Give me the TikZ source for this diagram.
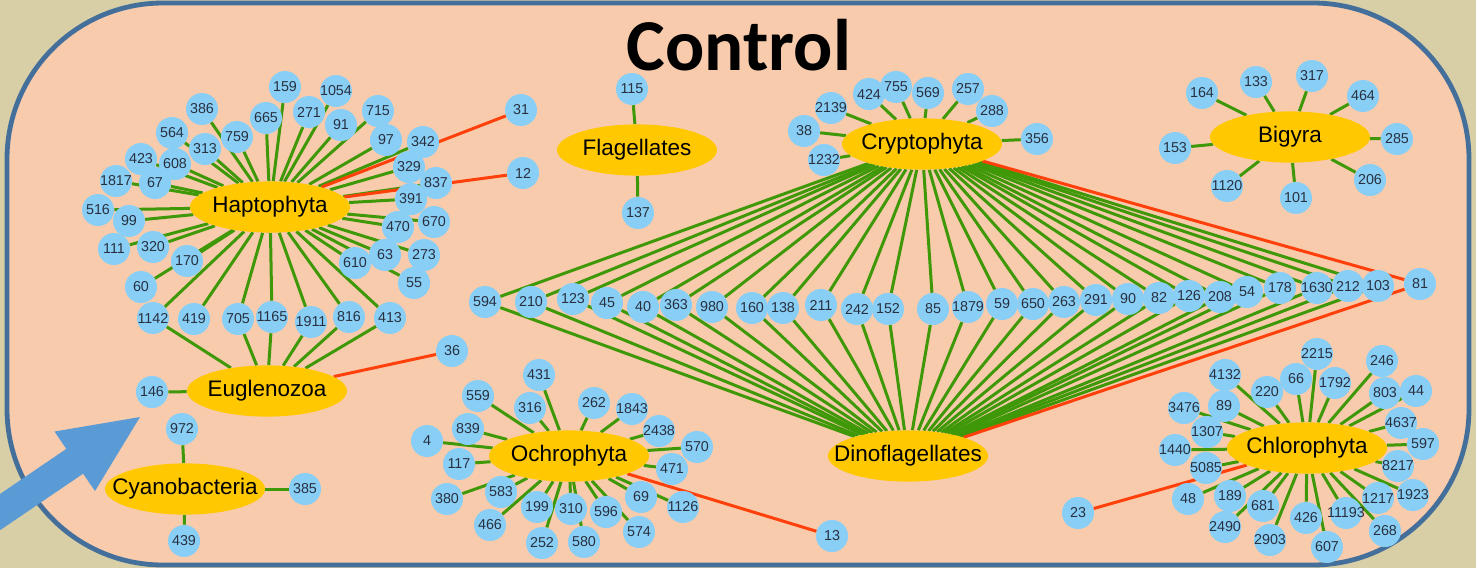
\documentclass[tikz,border=0pt]{standalone}
\usepackage{fontspec}
\setmainfont{Liberation Sans}
\newfontfamily\titlefont{Carlito}
\usetikzlibrary{shapes.geometric}
\definecolor{khaki}{RGB}{216,207,167}
\definecolor{peach}{RGB}{248,203,173}
\definecolor{frameblue}{RGB}{68,111,154}
\definecolor{leafblue}{RGB}{137,207,245}
\definecolor{hubgold}{RGB}{255,200,0}
\definecolor{linkgreen}{RGB}{62,152,8}
\definecolor{linkred}{RGB}{255,64,10}
\definecolor{arrowblue}{RGB}{91,155,213}
\definecolor{digitgray}{RGB}{40,48,64}
\pgfdeclarelayer{back}
\pgfdeclarelayer{edges}
\pgfsetlayers{back,edges,main}

\begin{document}
\begin{tikzpicture}[x=0.025cm, y=-0.025cm, line cap=round, line join=round,
  leaf/.style={circle, fill=leafblue, minimum size=0.8cm, inner sep=0pt, text=digitgray, font=\fontsize{10.2}{12}\selectfont},
  hub/.style={ellipse, fill=hubgold, minimum width=4cm, minimum height=1.28cm, inner sep=0pt, font=\fontsize{16}{19}\selectfont},
  link/.style={linkgreen, line width=0.075cm},
  redlink/.style={linkred, line width=0.075cm}]
	\useasboundingbox (0,0) rectangle (1476,568);
	\begin{pgfonlayer}{back}
	\fill[khaki] (0,0) rectangle (1476,568);
	\draw[frameblue, fill=peach, line width=0.12cm, rounded corners=3.9cm] (7,3) rectangle (1469,565);
	\end{pgfonlayer}
	\node[font=\titlefont\bfseries\fontsize{52}{60}\selectfont, inner sep=0pt] (title) at (739,45) {Control};
	\node[hub] (hap) at (270,207) {\makebox[0pt]{Haptophyta}};
	\node[hub] (eug) at (267,391) {\makebox[0pt]{Euglenozoa}};
	\node[hub] (cya) at (185,489) {\makebox[0pt]{Cyanobacteria}};
	\node[hub] (och) at (569,456) {\makebox[0pt]{Ochrophyta}};
	\node[hub] (fla) at (637,150) {\makebox[0pt]{Flagellates}};
	\node[hub] (cry) at (922,144) {\makebox[0pt]{Cryptophyta}};
	\node[hub] (big) at (1290,137) {\makebox[0pt]{Bigyra}};
	\node[hub] (din) at (908,456) {\makebox[0pt]{Dinoflagellates}};
	\node[hub] (chl) at (1307,448) {\makebox[0pt]{Chlorophyta}};
	\foreach \lab/\x/\y in {159/285/87, 1054/336/91, 386/202/109, 665/266/118, 271/309/112, 91/341/125,
	    715/378/111, 97/386/140, 342/423/142, 31/521/110, 564/172/133, 313/205/149, 759/237/137,
	    423/141/159, 608/175/164, 1817/116/181, 67/155/183, 329/409/167, 837/436/183, 12/523/173,
	    391/411/199, 516/98/210, 99/129/221, 470/398/227, 670/434/222, 111/114/249, 320/153/247,
	    170/187/261, 63/385/255, 273/424/255, 610/355/263, 55/414/283, 60/141/287, 1142/153/318,
	    419/194/319, 705/238/319, 1165/272/317, 1911/311/322, 816/349/317, 413/390/318}
	  \node[leaf] (n\lab) at (\x,\y) {\makebox[0pt]{\lab}};
	\foreach \lab/\x/\y in {146/152/392, 36/452/351, 972/182/429, 385/305/489, 439/184/541}
	  \node[leaf] (n\lab) at (\x,\y) {\makebox[0pt]{\lab}};
	\foreach \lab/\x/\y in {431/539/375, 559/478/396, 316/530/408, 262/594/403, 1843/632/409,
	    839/468/429, 2438/659/431, 4/427/441, 570/697/447, 117/459/464, 471/672/469, 380/447/499,
	    583/501/492, 199/537/507, 310/571/509, 596/606/512, 69/641/497, 1126/683/507, 466/490/525,
	    252/542/543, 580/584/542, 574/639/532, 13/832/536}
	  \node[leaf] (n\lab) at (\x,\y) {\makebox[0pt]{\lab}};
	\foreach \lab/\x/\y in {115/632/89, 137/638/213, 2139/831/108, 424/869/94, 755/896/87, 569/928/93,
	    257/968/89, 288/992/111, 38/804/131, 1232/824/160, 356/1037/139}
	  \node[leaf] (n\lab) at (\x,\y) {\makebox[0pt]{\lab}};
	\foreach \lab/\x/\y in {164/1202/93, 133/1256/82, 317/1312/76, 464/1363/96, 153/1175/148,
	    285/1397/139, 1120/1227/186, 101/1296/198, 206/1370/180}
	  \node[leaf] (n\lab) at (\x,\y) {\makebox[0pt]{\lab}};
	\foreach \lab/\x/\y in {594/485/302, 210/531/302, 123/573/299, 45/607/303, 40/643/307, 363/676/305,
	    980/712/307, 160/752/308, 138/783/308, 211/821/305, 242/857/309, 152/888/309, 85/933/309,
	    1879/968/307, 59/1002/304, 650/1033/304, 263/1064/302, 291/1096/300, 90/1128/299, 82/1159/298,
	    126/1189/296, 208/1220/297, 54/1247/292, 178/1280/288, 1630/1317/288, 212/1348/286,
	    103/1378/286, 81/1420/284}
	  \node[leaf] (n\lab) at (\x,\y) {\makebox[0pt]{\lab}};
	\foreach \lab/\x/\y in {2215/1317/354, 246/1382/361, 4132/1225/375, 66/1296/379, 1792/1335/383,
	    220/1267/392, 803/1385/393, 44/1416/391, 3476/1184/408, 89/1224/406, 4637/1401/423,
	    1307/1207/432, 1440/1175/450, 597/1423/444, 5085/1206/468, 8217/1398/466, 48/1188/499,
	    189/1230/496, 681/1263/506, 1217/1378/498, 1923/1413/495, 11193/1346/513, 426/1306/518,
	    2490/1225/527, 2903/1270/540, 268/1385/531, 607/1327/547, 23/1078/513}
	  \node[leaf] (n\lab) at (\x,\y) {\makebox[0pt]{\lab}};
	\begin{pgfonlayer}{edges}
	\foreach \lab in {159,1054,386,665,271,91,715,97,342,564,313,759,423,608,1817,67,329,837,391,516,
	    99,470,670,111,320,170,63,273,610,55,60,1142,419,705,1165,1911,816,413}
	  \draw[link] (hap) -- (n\lab);
	\draw[redlink] (hap) -- (n31);
	\draw[redlink] (hap) -- (n12);
	\foreach \lab in {1142,705,1165,1911,816,413,146}
	  \draw[link] (eug) -- (n\lab);
	\draw[redlink] (eug) -- (n36);
	\foreach \lab in {972,385,439}
	  \draw[link] (cya) -- (n\lab);
	\foreach \lab in {431,559,316,262,1843,839,2438,4,570,117,471,380,583,199,310,596,69,1126,466,252,580,574}
	  \draw[link] (och) -- (n\lab);
	\draw[redlink] (och) -- (n13);
	\foreach \lab in {115,137}
	  \draw[link] (fla) -- (n\lab);
	\foreach \lab in {2139,424,755,569,257,288,38,1232,356}
	  \draw[link] (cry) -- (n\lab);
	\foreach \lab in {164,133,317,464,153,285,1120,101,206}
	  \draw[link] (big) -- (n\lab);
	\foreach \lab in {594,210,123,45,40,363,980,160,138,211,242,152,85,1879,59,650,263,291,90,82,
	    126,208,54,178,1630,212,103}
	  {\draw[link] (cry) -- (n\lab);
	   \draw[link] (din) -- (n\lab);}
	\draw[redlink] (cry) -- (n81);
	\draw[redlink] (din) -- (n81);
	\foreach \lab in {2215,246,4132,66,1792,220,803,44,3476,89,4637,1307,1440,597,5085,8217,48,189,
	    681,1217,1923,11193,426,2490,2903,268,607}
	  \draw[link] (chl) -- (n\lab);
	\draw[redlink] (chl) -- (n23);
	\end{pgfonlayer}
	\fill[arrowblue] (-24.4,510.6) -- (66.3,448.9) -- (54.5,431.5) -- (140,417) -- (95,491) -- (83.1,473.7) -- (-7.6,535.4) -- cycle;
\end{tikzpicture}
\end{document}
